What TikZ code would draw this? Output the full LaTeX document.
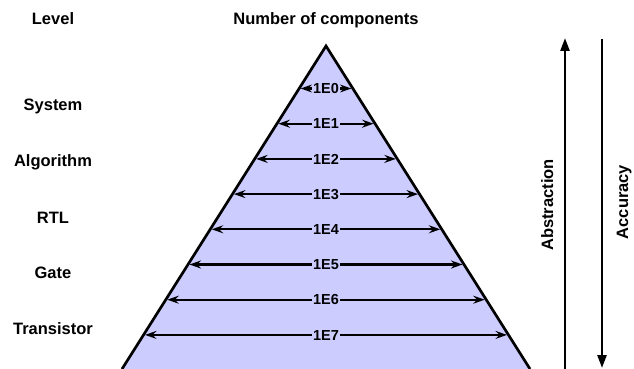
\documentclass[tikz,border=0pt]{standalone}
\usepackage{fontspec}
\setmainfont{Liberation Sans}
\usetikzlibrary{arrows.meta,calc}
\definecolor{pyr}{HTML}{CCCCFF}
\begin{document}
\begin{tikzpicture}[x=1pt,y=-1pt,
  lbl/.style={font=\fontsize{16.5}{18}\selectfont\bfseries, anchor=base, inner sep=0pt},
  sidelbl/.style={font=\fontsize{16.5}{18}\selectfont\bfseries, anchor=base, inner sep=0pt, rotate=90},
  dimlab/.style={font=\fontsize{14.5}{16}\selectfont\bfseries, fill=pyr, text height=10.4pt, text depth=0pt, inner xsep=1pt, inner ysep=1pt},
  dimarrow/.style={line width=2.2pt, {Stealth[length=11.5pt,width=8pt,inset=4pt]}-{Stealth[length=11.5pt,width=8pt,inset=4pt]}},
  bigarrow/.style={line width=2.5pt, -{Triangle[length=13pt,width=9pt]}}]
\useasboundingbox (0,0) rectangle (634,369);
% pyramid
\coordinate (apex) at (326,46);
\coordinate (bl) at (122,369);
\coordinate (br) at (530,369);
\fill[pyr] (bl) -- (apex) -- (br) -- cycle;
\draw[line width=2.7pt, line join=miter] (bl) -- (apex) -- (br);
% rows
\foreach \i in {0,...,7} {
  \pgfmathsetmacro\t{(42.5+35.2*\i)/323}
  \coordinate (L\i) at ($(apex)!\t!(bl)+(1.5,0)$);
  \coordinate (R\i) at ($(apex)!\t!(br)+(-1.5,0)$);
  \draw[dimarrow] (L\i) -- node[dimlab] (n\i) {1E\i} (R\i);
}
% headings and levels
\node[lbl] (level) at (53,25) {Level};
\node[lbl] (num) at (326,25) {Number of components};
\node[lbl] (sys) at (53,110) {System};
\node[lbl] (alg) at (53,166) {Algorithm};
\node[lbl] (rtl) at (53,223) {RTL};
\node[lbl] (gate) at (53,278) {Gate};
\node[lbl] (tran) at (53,334) {Transistor};
% side arrows
\coordinate (abB) at (565,369);
\coordinate (abT) at (565,38);
\coordinate (acT) at (602,39);
\coordinate (acB) at (602,368);
\draw[bigarrow] (abB) -- (abT);
\draw[bigarrow] (acT) -- (acB);
\node[sidelbl] (abs) at (553,205) {Abstraction};
\node[sidelbl] (acc) at (628,202) {Accuracy};
\end{tikzpicture}
\end{document}
